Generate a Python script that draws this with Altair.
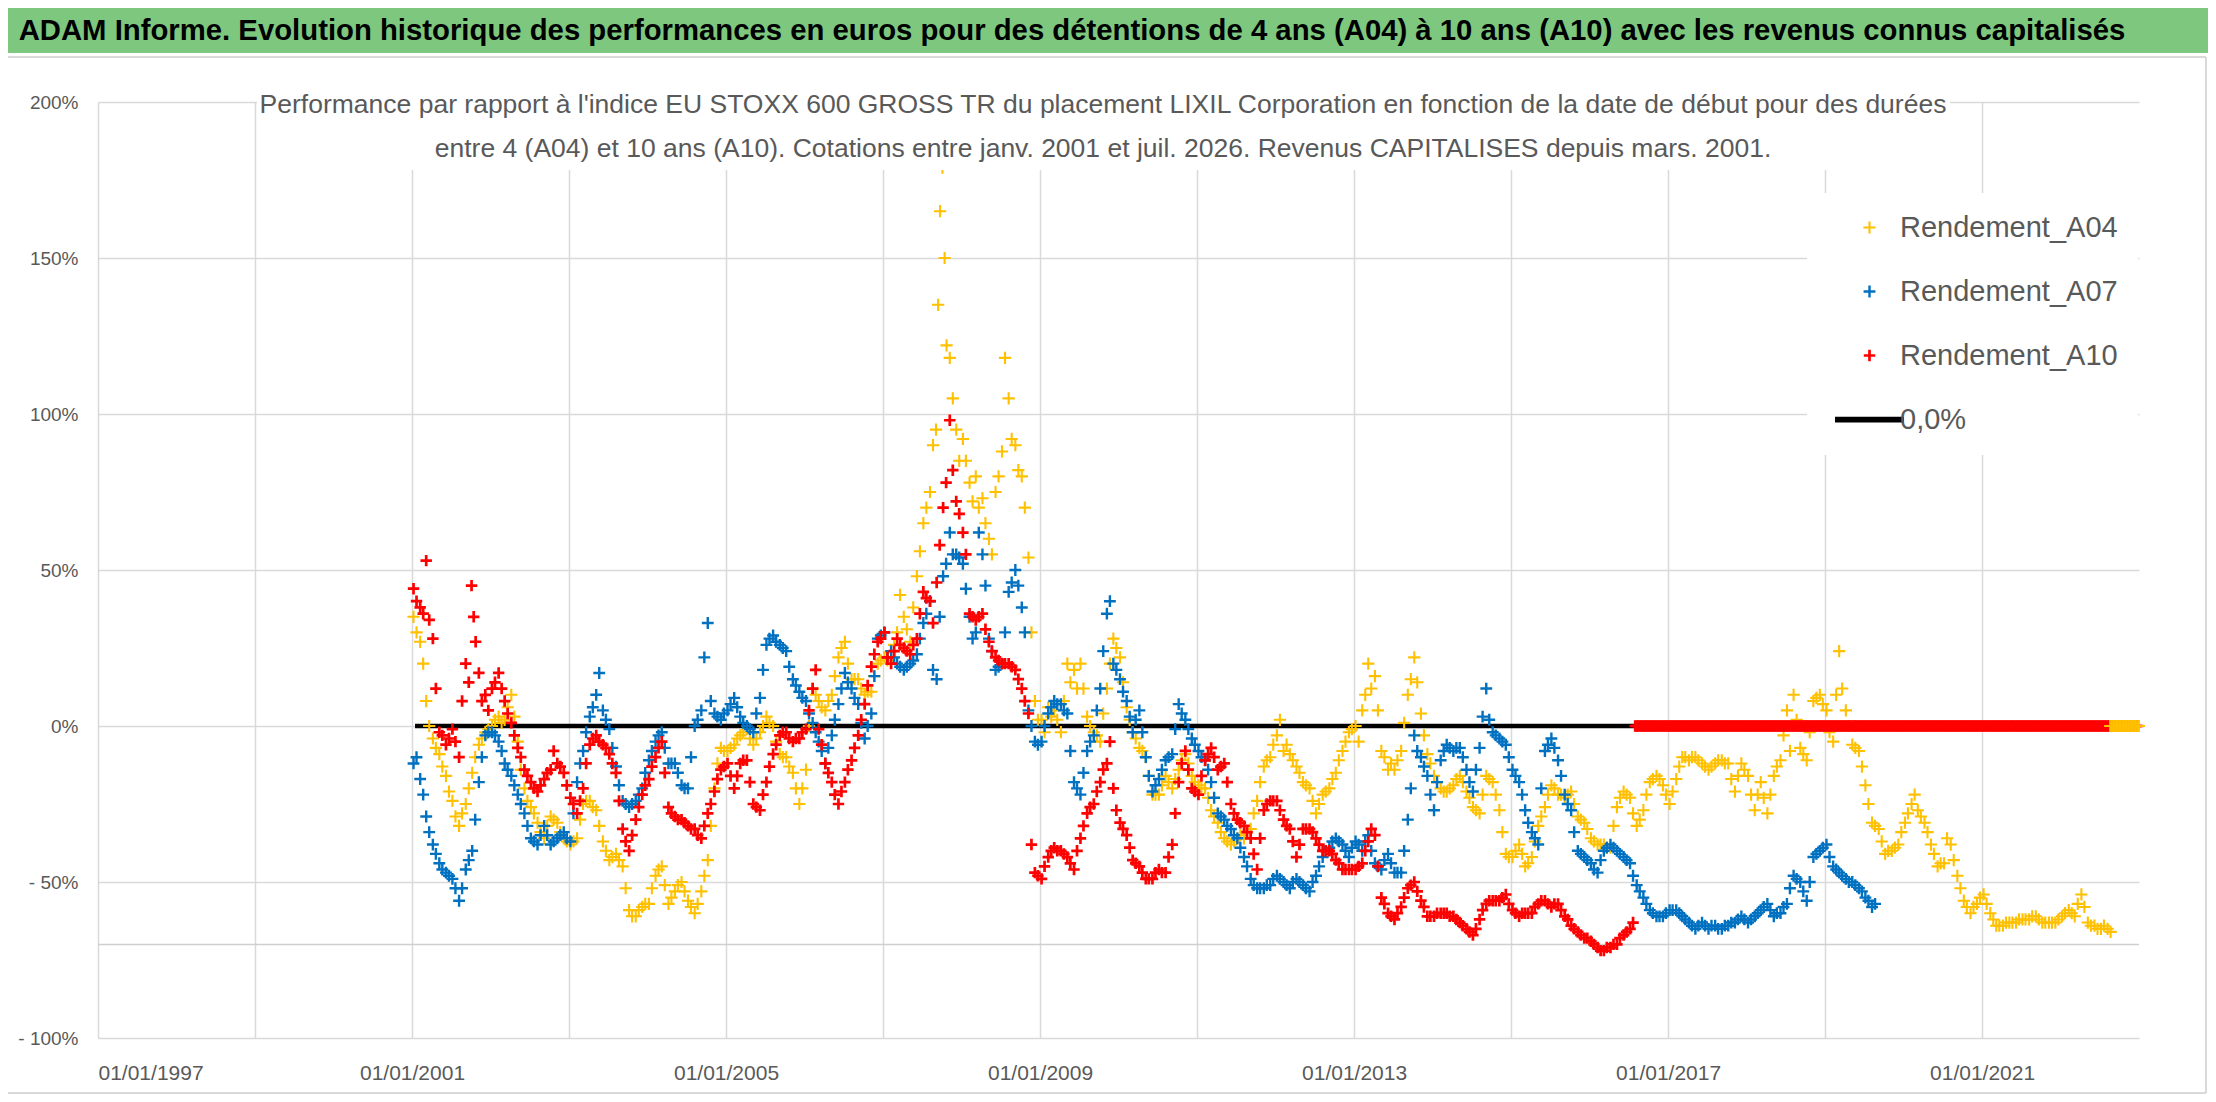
import altair as alt
import pandas as pd

FONT = "Liberation Sans, Arial, sans-serif"
GREY_TXT = "#595959"
GRID = "#D9D9D9"
GREEN = "#7DC87E"

TITLE = ("ADAM Informe. Evolution historique des performances en euros pour des "
         "détentions de 4 ans (A04) à 10 ans (A10) avec les revenus connus capitalisés")
SUBTITLE = ("Performance par rapport à l'indice EU STOXX 600 GROSS TR  du placement LIXIL "
            "Corporation en fonction de la date de début pour des durées\n"
            "entre 4 (A04) et 10 ans (A10). Cotations entre janv. 2001 et juil. 2026. "
            "Revenus CAPITALISES depuis mars. 2001.")

SERIES = ["Rendement_A04", "Rendement_A07", "Rendement_A10"]
ZERO_LABEL = "0,0%"
COLORS = ["#FFC000", "#0070C0", "#FF0000", "#000000"]

X_TICK_YEARS = [1997, 1999, 2001, 2003, 2005, 2007, 2009, 2011, 2013, 2015, 2017, 2019, 2021]
X_DOMAIN = ["1997-01-01", "2023-01-01"]
Y_TICKS = [-100, -50, 0, 50, 100, 150, 200]
HLINE = [-70]
ZERO_START = ["2001-01-15"]
ZERO_END = ["2022-12-31"]

# readings in percent, one entry per month from January 2001;
# each entry lists the readings taken across that month
A04_START = (2001, 1)
a04 = [
    [35, 30], [27, 20], [8, 0], [-4, -7], [-9, -13], [-16, -21], [-24, -29], [-32, -28], [-25, -20], [-15, -10], [-6, -4], [-2, -1],
    [0, 2], [3, 1], [2, 6], [10, 3], [-5, -14], [-20, -24], [-26, -28], [-31, -34], [-36, -32], [-29, -30], [-31, -34], [-36, -37],
    [-38, -37], [-36, -30], [-25, -24], [-24, -26], [-27, -32], [-37, -40], [-43, -42], [-41, -43], [-45, -52], [-59, -61], [-61, -59], [-58, -57],
    [-57, -52], [-48, -46], [-45, -51], [-57, -55], [-53, -51], [-50, -53], [-56, -58], [-60, -57], [-53, -48], [-43, -32], [-20, -12], [-7, -8],
    [-8, -7], [-6, -4], [-3, -2], [-1, -4], [-6, -4], [-2, 0], [3, 1], [0, -5], [-9, -10], [-10, -13], [-15, -20], [-25, -20],
    [-14, 0], [12, 10], [8, 6], [5, 8], [10, 16], [22, 25], [27, 20], [15, 15], [15, 12], [10, 11], [11, 16], [20, 21],
    [22, 21], [22, 26], [30, 42], [35, 31], [27, 38], [48, 56], [65, 70], [75, 90], [95, 135, 165], [179, 150, 122], [118, 105], [95, 85],
    [92, 85], [78, 72], [80, 70], [73, 65], [60, 55], [75, 80], [88, 118], [105, 92], [90, 82], [80, 70], [54, 30], [8, 2],
    [2, -2], [6, 3], [5, 2], [-2, 8], [20, 14], [18, 12], [20, 12], [3, 0], [-2, -3], [-5, 4], [12, 20], [28, 25],
    [22, 14], [6, 2], [-2, -4], [-7, -8], [-10, -16], [-22, -22], [-22, -19], [-16, -18], [-20, -17], [-14, -11], [-9, -12], [-16, -18],
    [-19, -20], [-20, -23], [-27, -29], [-31, -34], [-36, -37], [-38, -37], [-36, -35], [-36, -34], [-33, -28], [-24, -18], [-13, -11], [-10, -6],
    [-3, 2], [-8, -6], [-9, -11], [-13, -15], [-18, -19], [-20, -24], [-28, -25], [-22, -21], [-20, -17], [-15, -11], [-8, -5], [-2, -1],
    [0, -5], [5, 10], [20, 12], [16, 5], [-8, -10], [-14, -12], [-14, -11], [-8, 1], [10, 15], [22, 14], [4, -3], [-9, -12],
    [-16, -18], [-20, -21], [-21, -20], [-19, -17], [-16, -18], [-21, -23], [-26, -27], [-28, -22], [-16, -17], [-18, -22], [-27, -34], [-41, -42],
    [-42, -40], [-38, -41], [-45, -44], [-42, -37], [-32, -29], [-26, -22], [-19, -20], [-22, -22], [-23, -22], [-21, -25], [-29, -30], [-31, -33],
    [-36, -37], [-38, -38], [-38, -39], [-39, -32], [-26, -23], [-21, -22], [-23, -28], [-32, -30], [-27, -22], [-18, -17], [-16, -17], [-19, -22],
    [-25, -21], [-17, -13], [-10, -10], [-11, -10], [-10, -11], [-12, -13], [-14, -13], [-12, -11], [-11, -12], [-12, -17], [-21, -16], [-12, -14],
    [-16, -22], [-27, -22], [-18, -23], [-28, -22], [-16, -13], [-11, -3], [5, -8], [10, 2], [-7, -9], [-11, -2], [8, 9], [10, 7],
    [5, -2], [-5, 10], [24, 12], [5, 0], [-6, -7], [-8, -13], [-19, -25], [-31, -32], [-33, -37], [-41, -40], [-40, -39], [-38, -34],
    [-31, -28], [-25, -22], [-27, -29], [-31, -34], [-38, -41], [-45, -44], [-44, -36], [-38, -43], [-48, -52], [-56, -58], [-60, -58], [-57, -55],
    [-54, -57], [-60, -62], [-64, -64], [-64, -63], [-63, -63], [-63, -62], [-62, -62], [-62, -61], [-61, -62], [-63, -63], [-63, -63], [-63, -62],
    [-61, -60], [-59, -60], [-61, -57], [-54, -58], [-63, -64], [-64, -65], [-65, -64], [-65, -66],
]
A07_START = (2001, 1)
a07 = [
    [-12, -10], [-17, -22], [-29, -34], [-38, -41], [-44, -46], [-47, -48], [-49, -52], [-56, -52], [-46, -43], [-40, -30], [-18, -10], [-3, -2],
    [-2, -3], [-5, -8], [-12, -14], [-16, -19], [-22, -25], [-28, -32], [-36, -37], [-38, -35], [-32, -35], [-38, -37], [-36, -35], [-34, -36],
    [-37, -28], [-18, -12], [-8, -2], [3, 6], [10, 17], [5, 2], [-1, -7], [-13, -19], [-24, -25], [-26, -25], [-24, -22], [-20, -15],
    [-11, -8], [-5, -3], [-2, -7], [-12, -12], [-12, -15], [-19, -20], [-20, -10], [0, 2], [5, 22], [33, 8], [4, 3], [2, 4],
    [5, 7], [9, 6], [3, 1], [0, -1], [-2, 4], [9, 18], [26, 28], [29, 27], [26, 25], [24, 19], [15, 13], [11, 9],
    [8, 4], [1, -2], [-5, -8], [-12, -7], [-3, 2], [7, 12], [17, 14], [12, 9], [7, 1], [-4, 0], [4, 16], [28, 29],
    [30, 22], [24, 22], [20, 19], [18, 19], [20, 21], [23, 28], [33, 36], [40, 18], [15, 35], [48, 52], [62, 55], [55, 54],
    [52, 44], [35, 28], [30, 62], [55, 45], [28, 24], [18, 19], [20, 30], [43, 46], [50, 45], [38, 30], [5, 0], [-5, -6],
    [-5, 0], [4, 6], [8, 7], [7, 5], [4, -8], [-18, -20], [-22, -15], [-8, -5], [-3, 5], [12, 24], [36, 40], [20, 18],
    [15, 11], [8, 3], [-2, 2], [5, -2], [-10, -16], [-21, -19], [-17, -14], [-11, -10], [-9, -1], [7, 4], [2, -1], [-4, -6],
    [-8, -10], [-11, -14], [-18, -23], [-28, -29], [-30, -32], [-33, -35], [-36, -39], [-42, -45], [-49, -51], [-52, -52], [-52, -51], [-51, -49],
    [-48, -49], [-50, -51], [-52, -50], [-49, -50], [-51, -52], [-53, -50], [-48, -45], [-42, -40], [-39, -37], [-36, -37], [-38, -40], [-42, -39],
    [-37, -38], [-40, -37], [-35, -40], [-44, -45], [-46, -43], [-41, -44], [-47, -47], [-47, -40], [-30, -20], [-3, -8], [-10, -13], [-16, -22],
    [-27, -18], [-11, -8], [-6, -7], [-8, -7], [-7, -10], [-14, -18], [-21, -14], [-7, 3], [12, 2], [-2, -3], [-4, -5], [-6, -10],
    [-14, -16], [-18, -22], [-27, -31], [-34, -36], [-38, -20], [-8, -6], [-4, -7], [-11, -16], [-22, -25], [-27, -34], [-40, -41], [-42, -43],
    [-44, -46], [-47, -43], [-40, -39], [-38, -39], [-40, -41], [-42, -43], [-44, -48], [-51, -53], [-55, -57], [-59, -60], [-61, -61], [-61, -60],
    [-59, -59], [-59, -60], [-61, -62], [-63, -64], [-65, -64], [-63, -64], [-65, -64], [-64, -65], [-65, -64], [-64, -63], [-63, -62], [-61, -62],
    [-63, -62], [-61, -60], [-59, -58], [-57, -59], [-61, -60], [-60, -58], [-57, -52], [-48, -49], [-50, -53], [-56, -50], [-42, -41], [-40, -39],
    [-38, -42], [-45, -46], [-47, -48], [-49, -50], [-50, -51], [-52, -53], [-55, -56], [-58, -57],
]
A10_START = (2001, 1)
a10 = [
    [44, 40], [38, 36], [53, 34], [28, 12], [-2, -3], [-6, -4], [-1, -5], [-10, 8], [20, 14], [45, 35, 27], [17, 8], [10, 5],
    [12, 14], [17, 12], [8, 4], [1, -3], [-7, -10], [-14, -16], [-18, -20], [-21, -19], [-17, -15], [-14, -8], [-12, -13], [-15, -19],
    [-23, -25], [-28, -24], [-20, -12], [-6, -4], [-3, -5], [-6, -7], [-9, -12], [-15, -24], [-33, -37], [-40, -35], [-30, -26], [-22, -19],
    [-17, -13], [-10, -7], [-5, -15], [-26, -28], [-29, -30], [-30, -31], [-32, -33], [-33, -35], [-36, -32], [-28, -25], [-21, -17], [-14, -13],
    [-12, -16], [-20, -16], [-12, -11], [-11, -18], [-25, -26], [-27, -22], [-18, -13], [-9, -6], [-3, -2], [-2, -4], [-5, -4], [-4, -2],
    [-1, 5], [12, 18], [-1, -6], [-12, -15], [-18, -22], [-25, -21], [-18, -14], [-11, -7], [-3, 2], [7, 13], [19, 23], [27, 28],
    [30, 22], [20, 24], [28, 26], [25, 24], [23, 26], [28, 36], [43, 41], [40, 33], [46, 58], [70, 78], [98, 82], [72, 68],
    [62, 55], [36, 35], [34, 35], [36, 31], [27, 24], [22, 21], [20, 20], [20, 19], [18, 15], [12, 8], [4, -38], [-47, -48],
    [-49, -45], [-42, -40], [-39, -40], [-40, -41], [-42, -44], [-46, -40], [-36, -32], [-28, -26], [-25, -21], [-18, -14], [-12, -5], [-20, -27],
    [-31, -33], [-35, -39], [-43, -44], [-45, -47], [-49, -49], [-49, -47], [-46, -47], [-47, -42], [-38, -28], [-18, -12], [-8, -14], [-20, -21],
    [-22, -16], [-11, -9], [-7, -10], [-14, -13], [-12, -18], [-25, -28], [-30, -31], [-32, -34], [-36, -41], [-46, -36], [-27, -25], [-24, -24],
    [-24, -27], [-30, -32], [-33, -37], [-42, -38], [-33, -33], [-33, -34], [-36, -38], [-40, -40], [-40, -41], [-43, -44], [-46, -46], [-46, -46],
    [-46, -45], [-44, -40], [-37, -33], [-35, -45], [-55, -57], [-60, -61], [-62, -60], [-58, -55], [-52, -51], [-50, -53], [-56, -58], [-61, -61],
    [-61, -60], [-60, -60], [-60, -61], [-61, -62], [-63, -64], [-65, -66], [-67, -65], [-62, -59], [-57, -56], [-56, -56], [-56, -55], [-54, -57],
    [-59, -60], [-61, -60], [-60, -60], [-60, -58], [-57, -56], [-56, -57], [-58, -57], [-57, -59], [-61, -62], [-64, -65], [-66, -67], [-68, -68],
    [-69, -70], [-71, -72], [-72, -71], [-71, -70], [-70, -68], [-67, -66], [-65, -63],
]
# periods with no computable return: plotted at 0 in the source
A10_ZERO_RANGE = ("2016-08-01", "2022-12-31")
A04_ZERO_RANGE = ("2022-08-20", "2022-12-31")

PLUS = "M-1,0H1M0,-1V1"
LINE = "M-6,-0.25H6V0.25H-6Z"


def expand(name, start, vals):
    rows = []
    y0, m0 = start
    for i, v in enumerate(vals):
        idx = m0 - 1 + i
        yr, mo = y0 + idx // 12, idx % 12 + 1
        items = v if isinstance(v, list) else [v]
        k = len(items)
        for j, val in enumerate(items):
            day = int(1 + (j + 0.5) * 28 / k)
            rows.append({"date": pd.Timestamp(yr, mo, day), "value": val, "series": name})
    return rows


def zeros(name, rng):
    return [{"date": d, "value": 0, "series": name}
            for d in pd.date_range(rng[0], rng[1], freq="7D")]


rows = (expand(SERIES[0], A04_START, a04) + expand(SERIES[1], A07_START, a07)
        + expand(SERIES[2], A10_START, a10) + zeros(SERIES[2], A10_ZERO_RANGE)
        + zeros(SERIES[0], A04_ZERO_RANGE))
df = pd.DataFrame(rows)
df["date"] = df["date"].dt.strftime("%Y-%m-%d")

LEG_DOMAIN = SERIES + [ZERO_LABEL]
LEGEND = alt.Legend(
    title=None, orient="none", legendX=1709, legendY=91,
    fillColor="white", padding=20, symbolOffset=28, labelOffset=16,
    symbolSize=64, symbolStrokeWidth=2.5, labelFontSize=29, labelFont=FONT,
    labelColor=GREY_TXT, rowPadding=34, labelLimit=400,
)

x_axis = alt.Axis(
    values=[alt.DateTime(year=y, month=1, date=1) for y in X_TICK_YEARS],
    format="%d/%m/%Y", title=None, labelFontSize=21, labelPadding=24,
)
y_axis = alt.Axis(
    values=Y_TICKS, title=None, labelFontSize=19, labelPadding=20,
    labelExpr="datum.value < 0 ? '- ' + (-datum.value) + '%' : datum.value + '%'",
)

points = alt.Chart(df).mark_point(filled=False, opacity=1).encode(
    x=alt.X("date:T", scale=alt.Scale(domain=X_DOMAIN), axis=x_axis),
    y=alt.Y("value:Q", scale=alt.Scale(domain=[-100, 200], nice=False, zero=False), axis=y_axis),
    color=alt.Color("series:N", scale=alt.Scale(domain=LEG_DOMAIN, range=COLORS), legend=LEGEND),
    shape=alt.Shape("series:N", scale=alt.Scale(domain=LEG_DOMAIN, range=[PLUS, PLUS, PLUS, LINE]), legend=LEGEND),
    strokeWidth=alt.StrokeWidth("series:N", scale=alt.Scale(domain=LEG_DOMAIN, range=[2.1, 3.0, 3.0, 2]), legend=None),
    size=alt.Size("series:N", scale=alt.Scale(domain=LEG_DOMAIN, range=[150, 121, 121, 64]), legend=None),
)

hline = alt.Chart(pd.DataFrame({"v": HLINE})).mark_rule(color="#CFCFCF", strokeWidth=1.5).encode(
    y=alt.Y("v:Q", title=None)
)
zero_line = alt.Chart(pd.DataFrame({"start": ZERO_START, "end": ZERO_END})).mark_rule(
    color="black", strokeWidth=4.7
).encode(x=alt.X("start:T", title=None), x2="end:T", y=alt.datum(0))

one = pd.DataFrame({"t": [TITLE], "s": [SUBTITLE]})
title_box = alt.Chart(one).mark_rect(color="white").encode(
    x=alt.value(159), x2=alt.value(1852), y=alt.value(-10), y2=alt.value(68)
)
subtitle = alt.Chart(one).mark_text(
    font=FONT, fontSize=26.5, color=GREY_TXT, align="center", baseline="alphabetic",
    lineBreak="\n", lineHeight=44,
).encode(text="s:N", x=alt.value(1005), y=alt.value(11))
band = alt.Chart(one).mark_rect(color=GREEN).encode(
    x=alt.value(-90), x2=alt.value(2110), y=alt.value(-94), y2=alt.value(-49)
)
band_line = alt.Chart(one).mark_rule(color=GRID, strokeWidth=2).encode(
    x=alt.value(-90), x2=alt.value(2108), y=alt.value(-45)
)
right_border = alt.Chart(one).mark_rule(color=GRID, strokeWidth=2).encode(
    x=alt.value(2108), y=alt.value(-45), y2=alt.value(991)
)
bottom_border = alt.Chart(one).mark_rule(color=GRID, strokeWidth=2).encode(
    x=alt.value(-90), x2=alt.value(2108), y=alt.value(991)
)
title = alt.Chart(one).mark_text(
    font=FONT, fontSize=29.3, fontWeight="bold", color="black", align="center", baseline="alphabetic"
).encode(text="t:N", x=alt.value(974), y=alt.value(-62))

chart = alt.layer(
    hline, zero_line, points, title_box, subtitle, band, band_line, right_border, bottom_border, title
).properties(
    width=2041, height=936,
    autosize=alt.AutoSizeParams(type="none"),
    padding={"left": 90, "top": 94, "right": 69, "bottom": 56},
    background="white",
).configure_view(stroke=None).configure_axis(
    labelFont=FONT, labelColor=GREY_TXT, grid=True, gridColor=GRID, gridWidth=1.5,
    domain=False, ticks=False,
)

chart.save("out.html", embed_options={"renderer": "svg", "actions": False})
